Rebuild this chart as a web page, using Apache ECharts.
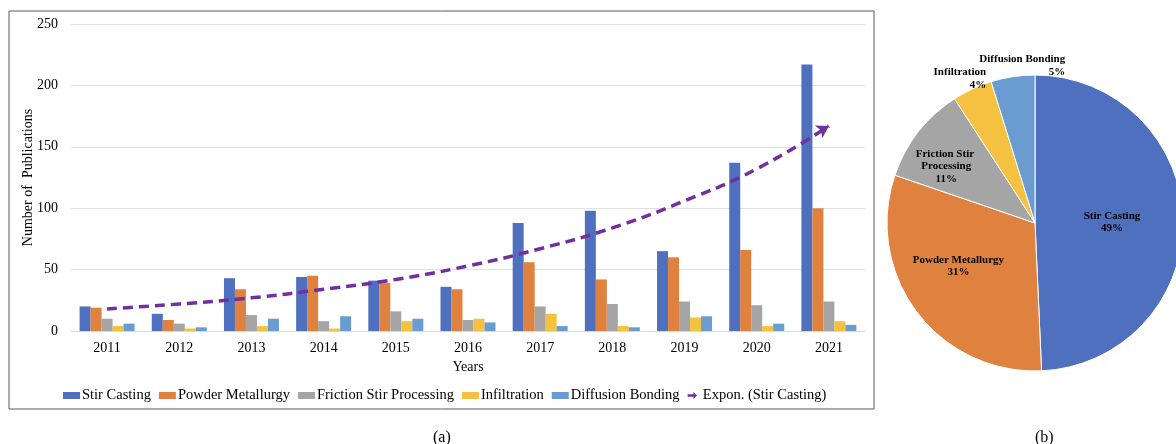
<!DOCTYPE html>
<html>
<head>
<meta charset="utf-8">
<script src="https://cdn.jsdelivr.net/npm/echarts@6/dist/echarts.min.js"></script>
<style>
  html, body { margin: 0; padding: 0; background: #fff; }
  #chart { width: 1176px; height: 444px; }
</style>
</head>
<body>
<div id="chart"></div>
<script>
// 数据
const years = ['2011', '2012', '2013', '2014', '2015', '2016', '2017', '2018', '2019', '2020', '2021'];
const stirCasting = [20, 14, 43, 44, 41, 36, 88, 98, 65, 137, 217];
const powderMetallurgy = [19, 9, 34, 45, 39, 34, 56, 42, 60, 66, 100];
const frictionStir = [10, 6, 13, 8, 16, 9, 20, 22, 24, 21, 24];
const infiltration = [4, 2, 4, 2, 8, 10, 14, 4, 11, 4, 8];
const diffusionBonding = [6, 3, 10, 12, 10, 7, 4, 3, 12, 6, 5];
// 趋势线
const exponTrend = [18, 22, 27, 34, 42, 53, 67, 84, 106, 132, 167];

const methodNames = ['Stir Casting', 'Powder Metallurgy', 'Friction Stir Processing', 'Infiltration', 'Diffusion Bonding'];
const colors = ['#4E70BE', '#E0823F', '#A5A5A5', '#F4C140', '#6A9CD2'];

// 饼图标签微调 (dx, dy)
const pieLabelShift = [[0, 1], [-15, -3], [-28, -9], [41, -21], [58, -7]];

const serif = '"Liberation Serif", "DejaVu Serif", serif';
const seriesValues = [stirCasting, powderMetallurgy, frictionStir, infiltration, diffusionBonding];

// 饼图: 各方法总数
const pieData = methodNames.map((name, i) => {
  const item = { name, value: seriesValues[i].reduce((s, v) => s + v, 0) };
  if (i === 2) item.label = { width: 70, overflow: 'break' };
  if (i >= 3) item.label = { position: 'outside' };
  return item;
});

const barSeries = methodNames.map((name, i) => ({
  name,
  type: 'bar',
  data: seriesValues[i],
  barWidth: 11,
  barGap: '0%',
  itemStyle: { color: colors[i] },
  z: 2
}));

const trendData = exponTrend.map((v, i) => i === exponTrend.length - 1
  ? { value: v, symbol: 'arrow', symbolSize: [11, 12], symbolRotate: -60 }
  : { value: v, symbol: 'none' });

const arrowIcon = 'path://M0,4 L10,4 L10,0 L16,6 L10,12 L10,8 L0,8 Z';

const chart = echarts.init(document.getElementById('chart'));
chart.setOption({
  animation: false,
  textStyle: { fontFamily: serif },
  title: [
    { text: '(a)', left: 428, top: 425, textStyle: { fontFamily: serif, fontSize: 16, fontWeight: 'normal', color: '#000' } },
    { text: '(b)', left: 1030, top: 425, textStyle: { fontFamily: serif, fontSize: 16, fontWeight: 'normal', color: '#000' } }
  ],
  graphic: [{
    type: 'rect',
    shape: { x: 9, y: 11, width: 865, height: 398 },
    style: { fill: 'none', stroke: '#595959', lineWidth: 1 },
    z: -1
  }],
  legend: {
    left: 58,
    top: 383,
    itemWidth: 17,
    itemHeight: 7,
    itemGap: 8,
    textStyle: { fontFamily: serif, fontSize: 14.5, color: '#000', padding: [0, 0, 0, -3] },
    data: methodNames.map(n => ({ name: n, icon: 'rect' }))
      .concat([{ name: 'Expon. (Stir Casting)', icon: arrowIcon, itemStyle: { color: '#7030A0' } }])
  },
  grid: { left: 71, right: 311, top: 24, bottom: 113 },
  xAxis: {
    type: 'category',
    data: years,
    name: 'Years',
    nameLocation: 'middle',
    nameGap: 29,
    nameTextStyle: { fontFamily: serif, fontSize: 14, color: '#000' },
    axisLine: { lineStyle: { color: '#D9D9D9' } },
    axisTick: { show: false },
    axisLabel: { fontFamily: serif, fontSize: 14, color: '#000', margin: 10 }
  },
  yAxis: {
    type: 'value',
    min: 0,
    max: 250,
    interval: 50,
    name: 'Number of  Publications',
    nameLocation: 'middle',
    nameGap: 36,
    nameMoveOverlap: false,
    nameTextStyle: { fontFamily: serif, fontSize: 14, color: '#000' },
    axisLine: { show: false },
    axisTick: { show: false },
    splitLine: { lineStyle: { color: '#E0E0E0' } },
    axisLabel: { fontFamily: serif, fontSize: 14, color: '#000', margin: 13 }
  },
  series: barSeries.concat([{
    name: 'Expon. (Stir Casting)',
    type: 'line',
    data: trendData,
    smooth: true,
    itemStyle: { color: '#7030A0' },
    lineStyle: { color: '#7030A0', width: 3.5, type: [10, 6] },
    z: 5
  }, {
    name: 'share',
    type: 'pie',
    center: [1035, 223],
    radius: 148,
    startAngle: 90,
    clockwise: true,
    percentPrecision: 0,
    itemStyle: { borderColor: '#fff', borderWidth: 1 },
    color: colors,
    label: {
      position: 'inside',
      formatter: '{b}\n{d}%',
      fontFamily: serif,
      fontSize: 11,
      fontWeight: 'bold',
      color: '#000',
      lineHeight: 12.5
    },
    labelLine: { show: false, length: 4, length2: 0 },
    labelLayout: (params) => {
      const s = pieLabelShift[params.dataIndex];
      return s ? { dx: s[0], dy: s[1] } : {};
    },
    data: pieData
  }])
});
</script>
</body>
</html>
